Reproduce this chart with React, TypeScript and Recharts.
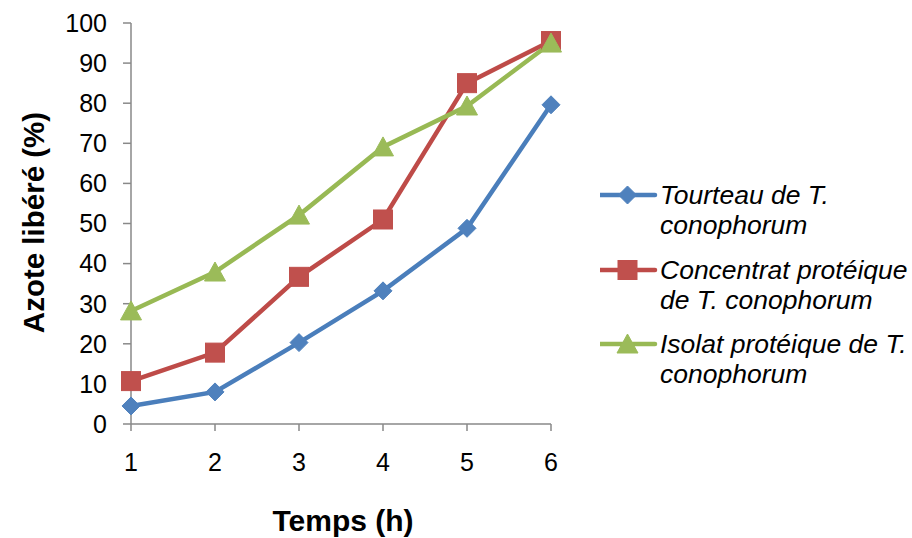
import React from 'react';
import { LineChart, Line, XAxis, YAxis, Legend } from 'recharts';

const hours = ['1', '2', '3', '4', '5', '6'];
const tourteau = [4.5, 8, 20.3, 33.2, 48.8, 79.6];
const concentrat = [10.7, 17.8, 36.7, 51, 85, 95.5];
const isolat = [28.2, 37.9, 52.1, 69.1, 79.3, 95];
const yTicks = [0, 10, 20, 30, 40, 50, 60, 70, 80, 90, 100];
const seriesNames = [
  'Tourteau de T. conophorum',
  'Concentrat protéique de T. conophorum',
  'Isolat protéique de T. conophorum',
];
const legendLines = [
  ['Tourteau de T.', 'conophorum'],
  ['Concentrat protéique', 'de T. conophorum'],
  ['Isolat protéique de T.', 'conophorum'],
];
const xTitle = 'Temps (h)';
const yTitle = 'Azote libéré (%)';

const data = hours.map((h, i) => ({
  h,
  tourteau: tourteau[i],
  concentrat: concentrat[i],
  isolat: isolat[i],
}));

const BLUE = '#4A7EBB';
const BLUE_M = '#4F81BD';
const RED = '#BE4B48';
const RED_M = '#C0504D';
const GREEN = '#98B954';
const GREEN_M = '#9BBB59';
const AXIS = '#898989';
const FONT = '"Liberation Sans", Arial, sans-serif';

type Shape = 'diamond' | 'square' | 'triangle';

function marker(shape: Shape, cx: number, cy: number, fill: string, key?: string | number) {
  if (shape === 'diamond') {
    const r = 9;
    return (
      <polygon
        key={key}
        points={`${cx},${cy - r} ${cx + r},${cy} ${cx},${cy + r} ${cx - r},${cy}`}
        fill={fill}
        stroke={fill}
        strokeWidth={1}
      />
    );
  }
  if (shape === 'square') {
    const s = 9.5;
    return <rect key={key} x={cx - s} y={cy - s} width={2 * s} height={2 * s} fill={fill} stroke={fill} strokeWidth={1} />;
  }
  return (
    <polygon
      key={key}
      points={`${cx},${cy - 10} ${cx + 10.5},${cy + 9} ${cx - 10.5},${cy + 9}`}
      fill={fill}
      stroke={fill}
      strokeWidth={1}
    />
  );
}

const makeDot = (shape: Shape, fill: string) => (props: any) => {
  const { cx, cy, index } = props;
  if (cx == null || cy == null) return <g key={`n-${index}`} />;
  return marker(shape, cx, cy, fill, `${shape}-${index}`);
};

const legendItems: { shape: Shape; line: string; fill: string }[] = [
  { shape: 'diamond', line: BLUE, fill: BLUE_M },
  { shape: 'square', line: RED, fill: RED_M },
  { shape: 'triangle', line: GREEN, fill: GREEN_M },
];

const renderLegend = () => (
  <div style={{ fontFamily: FONT }}>
    {legendItems.map((it, i) => (
      <div key={i} style={{ display: 'flex', alignItems: 'flex-start', height: 74.5 }}>
        <svg width={60} height={30} style={{ flex: 'none' }}>
          <line x1={0} y1={15} x2={55} y2={15} stroke={it.line} strokeWidth={4.5} strokeLinecap="round" />
          {marker(it.shape, 27.5, 15, it.fill)}
        </svg>
        <div style={{ fontSize: 26.5, fontStyle: 'italic', lineHeight: '30px', color: '#000', whiteSpace: 'nowrap' }}>
          {legendLines[i].map((l, j) => (
            <div key={j}>{l}</div>
          ))}
        </div>
      </div>
    ))}
  </div>
);

export default function App() {
  return (
    <div style={{ position: 'absolute', left: 0, top: 0, background: '#fff' }}>
      <LineChart
        width={912}
        height={538}
        data={data}
        margin={{ top: 23, right: 361, bottom: 0, left: 0 }}
        style={{ fontFamily: FONT }}
      >
        <XAxis
          dataKey="h"
          height={114}
          padding={{ left: 0, right: 0 }}
          stroke={AXIS}
          strokeWidth={1.5}
          tickSize={7}
          tickMargin={22}
          tick={{ fill: '#000', fontSize: 25, fontFamily: FONT }}
          label={{
            content: (p: any) => {
              const vb = p.viewBox;
              return (
                <text
                  x={vb.x + vb.width / 2 + 2}
                  y={vb.y + 107}
                  textAnchor="middle"
                  fontSize={30}
                  fontWeight="bold"
                  fill="#000"
                  fontFamily={FONT}
                >
                  {xTitle}
                </text>
              );
            },
          }}
        />
        <YAxis
          width={131}
          domain={[0, 100]}
          ticks={yTicks}
          interval={0}
          stroke={AXIS}
          strokeWidth={1.5}
          tickSize={8}
          tickMargin={16}
          tick={{ fill: '#000', fontSize: 25, fontFamily: FONT }}
          label={{
            content: (p: any) => {
              const vb = p.viewBox;
              const x = vb.x + 33;
              const y = vb.y + vb.height / 2 - 1;
              return (
                <text
                  x={x}
                  y={y}
                  transform={`rotate(-90, ${x}, ${y})`}
                  textAnchor="middle"
                  dominantBaseline="central"
                  fontSize={29.5}
                  fontWeight="bold"
                  fill="#000"
                  fontFamily={FONT}
                >
                  {yTitle}
                </text>
              );
            },
          }}
        />
        <Legend
          layout="vertical"
          align="center"
          verticalAlign="middle"
          wrapperStyle={{ left: 600, top: 180, width: 312 }}
          content={renderLegend}
        />
        <Line
          name={seriesNames[0]}
          dataKey="tourteau"
          stroke={BLUE}
          strokeWidth={4.5}
          dot={makeDot('diamond', BLUE_M)}
          activeDot={false}
          isAnimationActive={false}
        />
        <Line
          name={seriesNames[1]}
          dataKey="concentrat"
          stroke={RED}
          strokeWidth={4.5}
          dot={makeDot('square', RED_M)}
          activeDot={false}
          isAnimationActive={false}
        />
        <Line
          name={seriesNames[2]}
          dataKey="isolat"
          stroke={GREEN}
          strokeWidth={4.5}
          dot={makeDot('triangle', GREEN_M)}
          activeDot={false}
          isAnimationActive={false}
        />
      </LineChart>
    </div>
  );
}
